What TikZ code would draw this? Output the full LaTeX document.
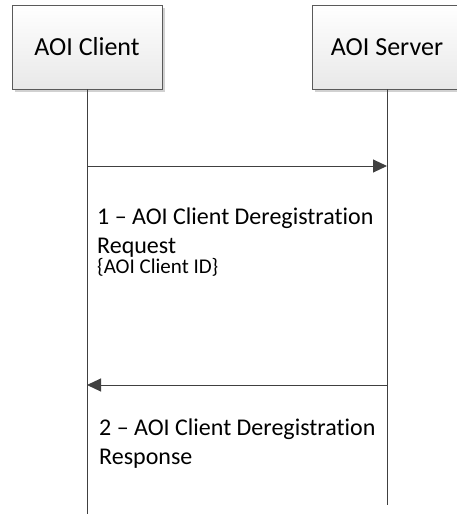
\documentclass[tikz,border=0pt]{standalone}
\usepackage{fontspec}
\setmainfont{Carlito}[Ligatures=NoCommon]
\usetikzlibrary{arrows.meta,shadows}

\definecolor{boxline}{RGB}{90,90,90}
\definecolor{msgline}{RGB}{64,64,64}

\begin{document}
\begin{tikzpicture}[x=1pt,y=1pt,
	actor/.style={shape=rectangle,draw=boxline,minimum width=150pt,minimum height=84pt,
		top color=white,bottom color=black!9,
		drop shadow={fill=black!18,opacity=1,shadow xshift=3pt,shadow yshift=-3pt},
		font=\fontsize{26}{30}\selectfont},
	life/.style={draw=msgline,line width=0.8pt},
	msg/.style={draw=msgline,line width=1pt,-{Triangle[length=14pt,width=13pt]}},
	label/.style={anchor=north west,inner sep=0pt,align=left,font=\fontsize{24}{29}\selectfont}]
	
	\useasboundingbox (0,0) rectangle (456,-514);
	
	\node[actor] (client) at (87,-47)     {AOI Client};
	\node[actor] (server) at (387,-47)    {AOI Server};
	
	\coordinate (clientend) at (87,-514);
	\coordinate (serverend) at (387,-505);
	\coordinate (req0) at (87,-166);
	\coordinate (req1) at (387,-166);
	\coordinate (rsp0) at (387,-385);
	\coordinate (rsp1) at (87,-385);
	
	\path[life] (client.south) -- (clientend);
	\path[life] (server.south) -- (serverend);
	
	\path[msg] (req0) -- (req1);
	\path[msg] (rsp0) -- (rsp1);
	
	\node[label] (reqtext) at (97,-208) {1 -- AOI Client Deregistration\\Request\\[-9pt]{\fontsize{21}{22}\selectfont\{AOI Client ID\}}};
	\node[label] (rsptext) at (99,-419) {2 -- AOI Client Deregistration\\Response};
	
\end{tikzpicture}
\end{document}
